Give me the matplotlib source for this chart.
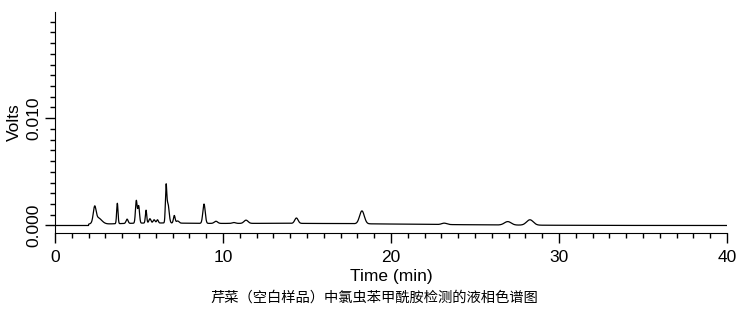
import matplotlib
matplotlib.use('Agg')
import matplotlib.pyplot as plt
import numpy as np
from matplotlib.ticker import MultipleLocator, FixedLocator

plt.rcParams['font.family'] = ['Liberation Sans', 'DejaVu Sans']

# 峰表：保留时间 min，峰高 V，峰宽 sigma min
peak_time = [2.36, 2.55, 3.71, 4.29, 4.84, 4.98, 5.42, 5.65, 5.90, 6.10,
             6.61, 6.72, 7.10, 7.30, 8.87, 9.58, 10.65, 11.37, 14.37,
             18.27, 23.17, 26.95, 28.27]
peak_height = [0.0013, 0.0006, 0.0019, 0.0004, 0.0021, 0.0016, 0.0012,
               0.0004, 0.0003, 0.0003, 0.0031, 0.0018, 0.0007, 0.0002,
               0.0018, 0.0002, 0.00008, 0.0003, 0.0005, 0.0012, 0.00013,
               0.00032, 0.0005]
peak_sigma = [0.08, 0.22, 0.04, 0.06, 0.05, 0.05, 0.04, 0.06, 0.06, 0.05,
              0.04, 0.07, 0.05, 0.08, 0.07, 0.10, 0.10, 0.12, 0.10, 0.14,
              0.15, 0.20, 0.20]

# 基线抬升（宽峰）
base_time = [13.0, 5.5]
base_height = [0.0002, 0.0001]
base_sigma = [8.0, 2.0]

t = np.linspace(0, 40, 8001)
volts = np.zeros_like(t)
for c, h, s in zip(peak_time + base_time, peak_height + base_height,
                   peak_sigma + base_sigma):
    volts += h * np.exp(-(t - c) ** 2 / (2 * s ** 2))
volts[t < 2.0] = 0.0

fig = plt.figure(figsize=(7.45, 3.19), dpi=100)
ax = fig.add_axes([55 / 745, 1 - 233 / 319, 672 / 745, 221 / 319])
ax.plot(t, volts, color='black', linewidth=0.9)

ax.set_xlim(0, 40)
ax.set_ylim(-0.0007, 0.0199)
ax.spines['top'].set_visible(False)
ax.spines['right'].set_visible(False)

ax.xaxis.set_major_locator(MultipleLocator(10))
ax.xaxis.set_minor_locator(MultipleLocator(1))
ax.yaxis.set_major_locator(FixedLocator([0.0, 0.010]))
ax.yaxis.set_minor_locator(FixedLocator(np.arange(0.001, 0.0195, 0.001)))
ax.yaxis.set_major_formatter(plt.FuncFormatter(lambda v, p: f'{v:.3f}'))

ax.tick_params(axis='both', which='major', length=7, width=1, labelsize=12.5,
               direction='out')
ax.tick_params(axis='both', which='minor', length=3.6, width=1, direction='out')
ax.tick_params(axis='x', pad=5)
ax.tick_params(axis='y', pad=3)
for lbl in ax.get_yticklabels():
    lbl.set_rotation(90)
    lbl.set_va('center')

ax.set_xlabel('Time (min)', fontsize=12.5)
ax.xaxis.set_label_coords(0.5, -0.165)
ax.set_ylabel('Volts', fontsize=12.5)
ax.yaxis.set_label_coords(-0.049, 0.5)

fig.text(374 / 745, 1 - 298 / 319, '芹菜（空白样品）中氯虫苯甲酰胺检测的液相色谱图',
         ha='center', va='center', fontsize=10.3,
         family=['Noto Sans CJK SC', 'DejaVu Sans'])

fig.savefig('out.png', dpi=100)
